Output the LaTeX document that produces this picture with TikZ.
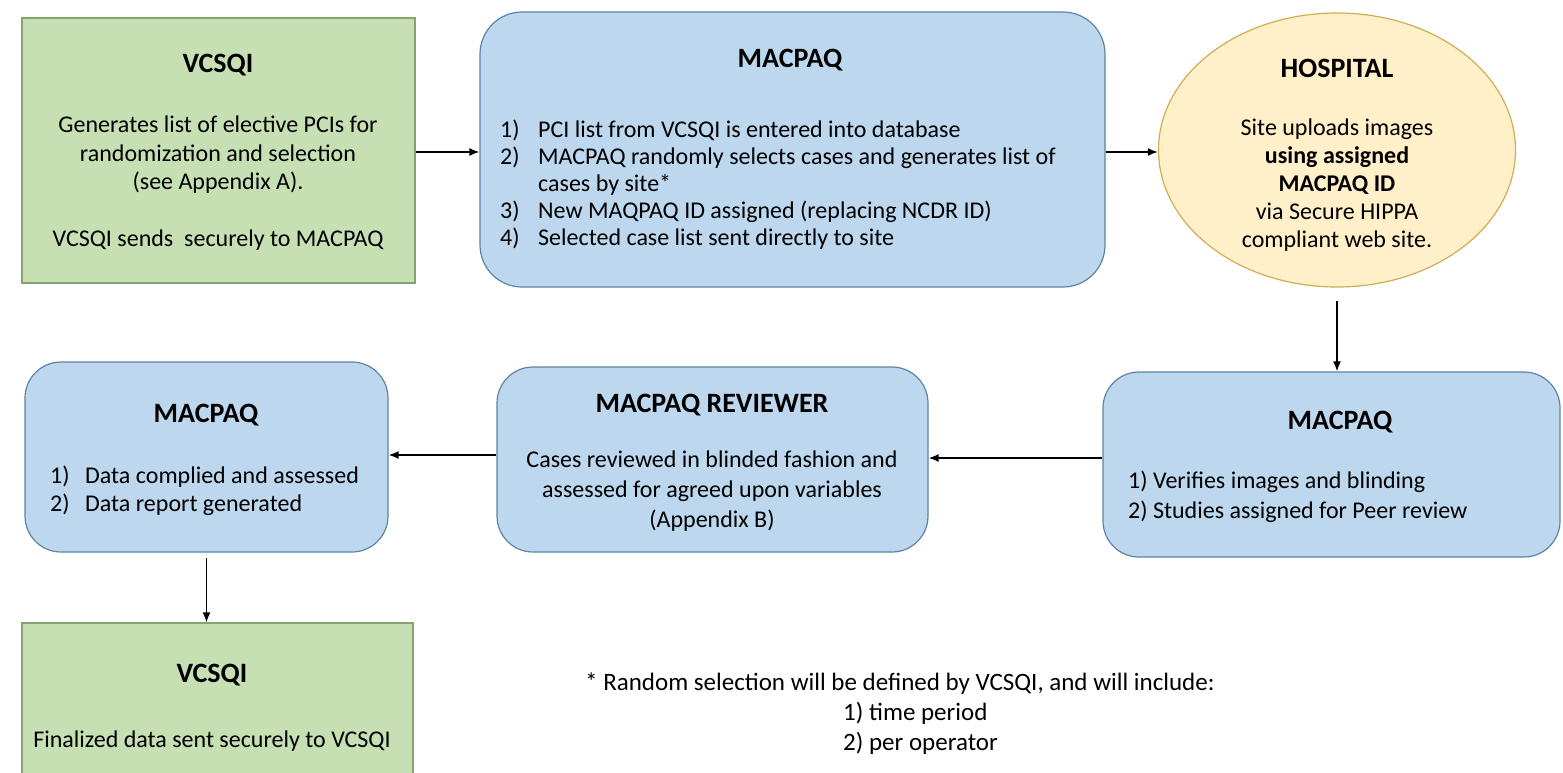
\documentclass[tikz,border=0pt]{standalone}
\usepackage{fontspec}
\setmainfont{Carlito}
\usetikzlibrary{arrows.meta,shapes.geometric}
\definecolor{greenfill}{HTML}{C6E0B4}
\definecolor{greenline}{HTML}{86A36F}
\definecolor{bluefill}{HTML}{BDD7EE}
\definecolor{blueline}{HTML}{5F82A6}
\definecolor{yellowfill}{HTML}{FFF0C9}
\definecolor{yellowline}{HTML}{CFAE52}
\newcommand{\bodysize}{\fontsize{24}{28.5}\selectfont}
\newcommand{\listsize}{\fontsize{24}{27}\selectfont}
\newcommand{\headsize}{\fontsize{28}{30}\selectfont\bfseries}

\begin{document}
\begin{tikzpicture}[x=1pt,y=-1pt,>={Latex[length=10pt,width=8pt]},
	greenbox/.style={draw=greenline,fill=greenfill,line width=1.2pt,inner sep=0pt},
	bluebox/.style={draw=blueline,fill=bluefill,line width=1.2pt,inner sep=0pt,rounded corners=36pt},
	head/.style={font=\headsize,inner sep=0pt},
	body/.style={font=\bodysize,align=center,inner sep=0pt,anchor=north},
	listing/.style={font=\listsize,inner sep=0pt,anchor=north west},
	flow/.style={->,line width=1.6pt}]
		\useasboundingbox (0,0) rectangle (1563,772);
		%Riga 1
		\node [greenbox,minimum width=393pt,minimum height=265pt] (vcsqiA) at (218.5,150.5) {};
		\node [head] (vcsqiAhead) at (218,65) {VCSQI};
		\node [body] (vcsqiAbody) at (218,116) {Generates list of elective PCIs for\\randomization and selection\\(see Appendix A).\\ \\VCSQI sends\ \ securely to MACPAQ};
		\node [bluebox,rounded corners=42pt,minimum width=625pt,minimum height=275pt] (macA) at (792.5,149.5) {};
		\node [head] (macAhead) at (790,60) {MACPAQ};
		\node [listing] (macAlist) at (500,118) {\begin{tabular}{@{}p{38pt}@{}l@{}}
			1) & PCI list from VCSQI is entered into database\\
			2) & MACPAQ randomly selects cases and generates list of\\
			   & cases by site*\\
			3) & New MAQPAQ ID assigned (replacing NCDR ID)\\
			4) & Selected case list sent directly to site
		\end{tabular}};
		\node [ellipse,draw=yellowline,fill=yellowfill,line width=1.2pt,minimum width=357pt,minimum height=274pt] (hosp) at (1337,150) {};
		\node [head] (hosphead) at (1337,68) {HOSPITAL};
		\node [body,font=\fontsize{24}{28}\selectfont] (hospbody) at (1337,119) {Site uploads images\\\textbf{using assigned}\\\textbf{MACPAQ ID}\\via Secure HIPPA\\compliant web site.};
		%Riga 2
		\node [bluebox,minimum width=457pt,minimum height=185pt] (macB) at (1331.5,464.5) {};
		\node [head] (macBhead) at (1340,422) {MACPAQ};
		\node [listing,font=\fontsize{24}{30}\selectfont,align=left] (macBlist) at (1128,471) {1) Verifies images and blinding\\2) Studies assigned for Peer review};
		\node [bluebox,minimum width=431pt,minimum height=185pt] (rev) at (712.5,459.5) {};
		\node [head] (revhead) at (712,405) {MACPAQ REVIEWER};
		\node [body,font=\fontsize{24}{30}\selectfont] (revbody) at (712,451) {Cases reviewed in blinded fashion and\\assessed for agreed upon variables\\(Appendix B)};
		\node [bluebox,minimum width=363pt,minimum height=190pt] (macC) at (206.5,457) {};
		\node [head] (macChead) at (206,415) {MACPAQ};
		\node [listing,font=\fontsize{24}{28}\selectfont] (macClist) at (50,464) {\begin{tabular}{@{}p{35pt}@{}l@{}}
			1) & Data complied and assessed\\
			2) & Data report generated
		\end{tabular}};
		%Riga 3
		\node [greenbox,minimum width=391pt,minimum height=170pt] (vcsqiB) at (217.5,708) {};
		\node [head] (vcsqiBhead) at (212,675) {VCSQI};
		\node [body] (vcsqiBbody) at (212,731) {Finalized data sent securely to VCSQI};
		%Nota
		\node [font=\fontsize{25}{30}\selectfont,anchor=north west,align=left,inner sep=0pt] (note) at (585,673) {* Random selection will be defined by VCSQI, and will include:};
		\node [font=\fontsize{25}{30}\selectfont,anchor=north west,align=left,inner sep=0pt] (noteitems) at (843,702) {1) time period\\2) per operator};
		%Frecce
		\draw [flow] (vcsqiA.east |- 0,152) -- (macA.west |- 0,152);
		\draw [flow] (macA.east |- 0,152) -- (hosp.west |- 0,152);
		\draw [flow,shorten <=13pt] (hosp.south) -- (hosp.south |- macB.north);
		\draw [flow] (macB.west |- 0,458) -- (rev.east |- 0,458);
		\draw [flow] (rev.west |- 0,455) -- (macC.east |- 0,455);
		\draw [flow,shorten <=5pt] (macC.south) -- (macC.south |- vcsqiB.north);
	\end{tikzpicture}
\end{document}
